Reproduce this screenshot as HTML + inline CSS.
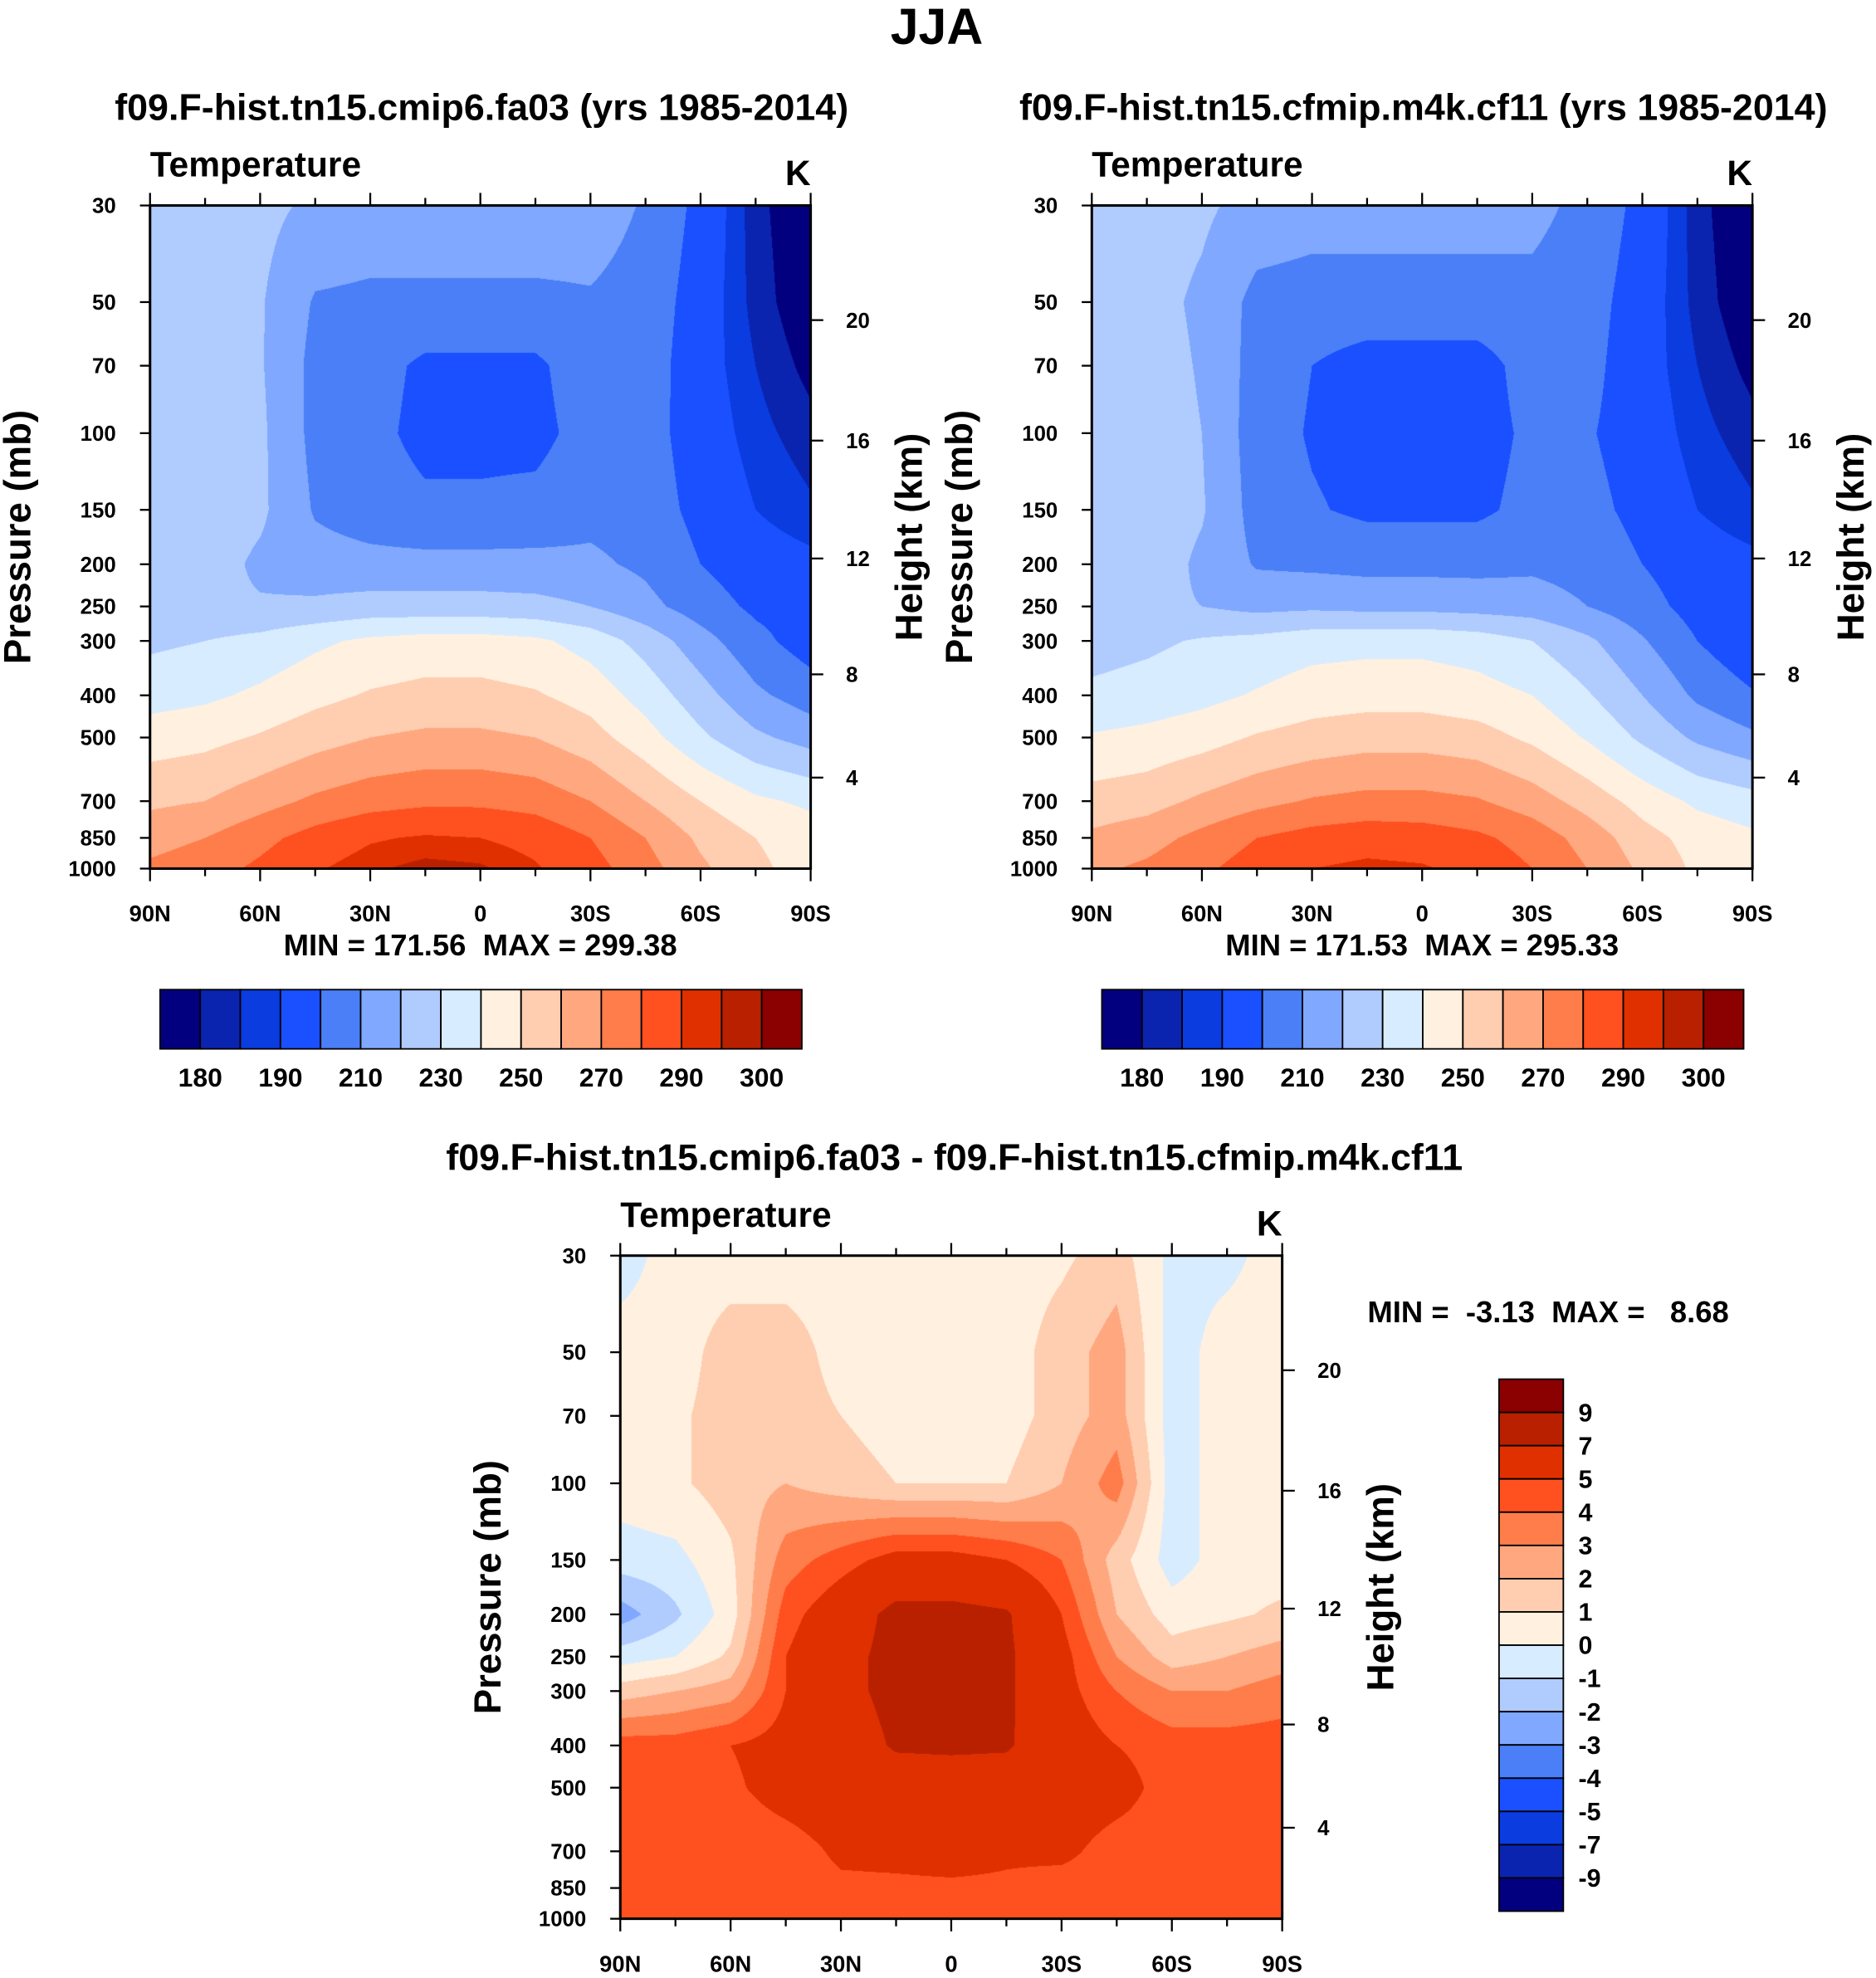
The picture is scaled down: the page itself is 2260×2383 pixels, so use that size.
<!DOCTYPE html>
<html><head><meta charset="utf-8"><style>
html,body{margin:0;padding:0;background:#fff;}
#wrap{position:relative;width:2260px;height:2383px;overflow:hidden;}
canvas,svg{position:absolute;left:0;top:0;}
text{font-family:"Liberation Sans",Arial,sans-serif;font-weight:bold;fill:#000;white-space:pre;}
</style></head><body>
<div id="wrap">
<canvas id="cv" width="2260" height="2383"></canvas>
<svg id="sv" width="2260" height="2383" viewBox="0 0 1488 1569" preserveAspectRatio="none"></svg>
</div>
<script>
// ---- data ----
const lats = [90,75,60,45,30,15,0,-15,-30,-45,-60,-75,-90];
const plevs = [30,50,70,100,150,200,250,300,400,500,700,850,1000];
const latTicks = [90,60,30,0,-30,-60,-90];
const latLabels = ["90N","60N","30N","0","30S","60S","90S"];
const pTicks = [30,50,70,100,150,200,250,300,400,500,700,850,1000];
const hTicks = [20,16,12,8,4];
const hTickP = [55,104,194,358,618];
const tLevels = [180,185,190,200,210,220,230,240,250,260,270,280,290,295,300];
const tLabels = ["180","190","210","230","250","270","290","300"];
const dLevels = [-9,-7,-5,-4,-3,-2,-1,0,1,2,3,4,5,7,9];
const dLabels = ["9","7","5","4","3","2","1","0","-1","-2","-3","-4","-5","-7","-9"];
const colors = ["#03007f","#0a24b0","#0a3ce0","#1a50ff","#4a7ff8","#80a8ff","#b0ccff","#d8ecff",
 "#fff0e0","#ffcdb0","#ffa880","#ff7d4a","#ff5020","#e03000","#b82000","#8b0000"];
const T1 = [
[226,225,223,218,216,216,216,216,215,209,197,182,174],
[226,224,221,209,208,208,208,208,209,206,195,183,175],
[227,225,221,207,204,198,198,198,206,205,194,185,178],
[228,226,222,207,203,197,197,197,204,204,195,187,182],
[228,226,222,209,205,202,202,203,207,205,197,190,186],
[227,225,218,214,213,213,213,213,212,208,200,194,192],
[222,222,221,222,224,224,224,223,220,213,205,198,196],
[228,230,233,238,242,244,244,242,236,226,214,203,195],
[236,238,242,247,251,253,253,251,246,236,224,212,205],
[245,247,251,256,260,262,262,260,254,244,232,222,216],
[258,260,266,272,276,278,278,276,270,260,250,242,238],
[266,270,277,284,289,291,290,287,280,270,258,250,245],
[272,276,282,289,294,297,296,291,284,274,262,252,246]];
const T2 = [
[226,225,222,216,214,214,214,214,213,207,197,182,174],
[226,224,218,207,206,206,206,206,207,204,195,183,175],
[227,225,219,206,200,196,196,196,204,203,194,185,178],
[228,226,220,205,199,196,196,196,202,201,195,187,182],
[228,226,221,206,201,198,198,198,203,203,197,190,186],
[228,226,218,209,208,207,207,207,208,206,200,194,192],
[223,222,220,217,218,217,217,216,215,210,204,196,194],
[226,228,231,233,236,237,237,235,230,222,211,200,192],
[232,234,237,241,245,246,246,244,240,231,220,208,201],
[241,243,246,251,254,256,256,254,248,239,228,218,212],
[254,256,262,267,271,273,273,271,265,256,246,238,234],
[262,266,273,280,284,286,285,282,276,266,254,246,242],
[268,272,278,285,290,292,291,287,280,270,258,248,242]];
const D = [
[-0.5,0.5,0.5,0.5,0.5,0.5,0.5,0.5,0.8,1.5,-0.3,-0.3,0.5],
[0.5,0.5,1.5,1.5,0.6,0.5,0.5,0.5,1.5,2.5,-0.5,0.5,0.5],
[0.5,0.8,1.5,1.5,1.0,0.5,0.5,0.5,1.5,2.5,-0.5,0.5,0.5],
[0.5,0.8,1.5,2.0,1.5,1.0,1.0,1.0,2.0,3.5,-0.5,0.5,0.5],
[-0.5,-0.3,0.8,3.5,4.5,5.5,5.5,5.0,4.0,1.5,-0.5,0.5,0.5],
[-2.5,-1.2,0.5,4.5,6.0,7.5,7.5,7.2,5.0,2.0,0.5,0.8,1.2],
[-0.5,0,1.2,5.0,6.5,7.5,7.5,7.3,5.5,3.0,1.5,2.0,2.5],
[1.5,2.0,2.5,5.0,6.5,7.5,7.5,7.3,5.5,4.0,3.0,3.0,3.5],
[4.5,4.5,5.0,5.5,6.0,7.2,7.3,7.2,5.8,5.0,4.5,4.5,4.5],
[4.5,4.5,4.8,5.5,5.8,6.0,6.0,6.0,5.8,5.5,4.5,4.5,4.5],
[4.5,4.0,4.3,4.5,5.2,5.3,5.5,5.2,5.3,4.5,4.5,4.5,4.5],
[4.5,4.2,4.5,4.5,4.8,4.8,4.8,4.8,4.5,4.5,4.5,4.5,4.5],
[4.5,4.5,4.5,4.5,4.5,4.2,4.5,4.5,4.5,4.5,4.5,4.5,4.5]];

const S = 2260/1488;
const NS="http://www.w3.org/2000/svg";
const sv=document.getElementById('sv');
const ctx=document.getElementById('cv').getContext('2d');
function el(tag,attrs,txt){const e=document.createElementNS(NS,tag);for(const k in attrs)e.setAttribute(k,attrs[k]);if(txt!==undefined)e.textContent=txt;sv.appendChild(e);return e;}
function txt(x,y,s,size,anchor,name){const e=el('text',{x:x,y:y,'font-size':size,'text-anchor':anchor||'middle'},s);

return e;}

function colorIdx(v,lev){let i=0;while(i<lev.length&&v>=lev[i])i++;return i;}
function hex(h){return [parseInt(h.substr(1,2),16),parseInt(h.substr(3,2),16),parseInt(h.substr(5,2),16)];}
const rgb=colors.map(hex);

function panel(P){
 const {x0,y0,w,h,data,lev}=P;
 const xScale=lat=>x0+(90-lat)/180*w;
 const yScale=p=>y0+Math.log(p/30)/Math.log(1000/30)*h;
 const X0=Math.round(x0*S),Y0=Math.round(y0*S),W=Math.round(w*S),H=Math.round(h*S);
 const img=ctx.createImageData(W,H);
 const lpl=plevs.map(p=>Math.log(p));
 for(let j=0;j<H;j++){
  const yy=(Y0+j+0.5)/S;
  const lp=Math.log(30)+(yy-y0)/h*Math.log(1000/30);
  let k=0;while(k<plevs.length-2&&lp>lpl[k+1])k++;
  let fy=(lp-lpl[k])/(lpl[k+1]-lpl[k]);fy=Math.max(0,Math.min(1,fy));
  for(let i=0;i<W;i++){
   const xx=(X0+i+0.5)/S;
   const lat=90-(xx-x0)/w*180;
   let m=Math.floor((90-lat)/15);m=Math.max(0,Math.min(11,m));
   let fx=((90-lat)-m*15)/15;fx=Math.max(0,Math.min(1,fx));
   const v=(data[k][m]*(1-fx)+data[k][m+1]*fx)*(1-fy)+(data[k+1][m]*(1-fx)+data[k+1][m+1]*fx)*fy;
   const c=rgb[colorIdx(v,lev)];
   const o=(j*W+i)*4;img.data[o]=c[0];img.data[o+1]=c[1];img.data[o+2]=c[2];img.data[o+3]=255;
  }
 }
 ctx.putImageData(img,X0,Y0);
 const fr=el('rect',{x:x0,y:y0,width:w,height:h,fill:'none',stroke:'#000','stroke-width':2});
 
 
 for(let l=90;l>=-90;l-=15){
  const x=xScale(l);const major=(l%30===0);const len=major?10:6;
  el('line',{x1:x,y1:y0+h,x2:x,y2:y0+h+len,stroke:'#000','stroke-width':1.5});
  el('line',{x1:x,y1:y0,x2:x,y2:y0-len,stroke:'#000','stroke-width':1.5});
 }
 latTicks.forEach((l,i)=>{txt(xScale(l),y0+h+42,latLabels[i],18,'middle',P.name+'-x-tick-label');});
 pTicks.forEach(p=>{const y=yScale(p);
  el('line',{x1:x0-8,y1:y,x2:x0,y2:y,stroke:'#000','stroke-width':1.5});
  txt(x0-27,y+6,String(p),17,'end',P.name+'-y-tick-label');});
 hTicks.forEach((z,i)=>{const y=yScale(hTickP[i]);
  el('line',{x1:x0+w,y1:y,x2:x0+w+10,y2:y,stroke:'#000','stroke-width':1.5});
  txt(x0+w+28,y+6,String(z),17,'start',P.name+'-right-tick-label');});
 txt(x0,y0-23,'Temperature',28,'start',P.name+'-variable-label');
 txt(x0+w,y0-16,'K',28,'end',P.name+'-units-label');
 const yl=txt(0,0,'Pressure (mb)',30,'middle',P.name+'-y-axis-title');
 yl.setAttribute('transform','translate('+(x0-95)+','+(y0+h/2)+') rotate(-90)');
 const hl=txt(0,0,'Height (km)',30,'middle',P.name+'-right-axis-title');
 hl.setAttribute('transform','translate('+(x0+w+88)+','+(y0+h/2)+') rotate(-90)');
}

txt(743,35,'JJA',40,'middle','figure-title');
txt(382,95,'f09.F-hist.tn15.cmip6.fa03 (yrs 1985-2014)',29.5,'middle','panel1-title');
txt(1129,95,'f09.F-hist.tn15.cfmip.m4k.cf11 (yrs 1985-2014)',29.5,'middle','panel2-title');
txt(757,928,'f09.F-hist.tn15.cmip6.fa03 - f09.F-hist.tn15.cfmip.m4k.cf11',29.5,'middle','panel3-title');

panel({name:'panel1',x0:119,y0:163,w:524,h:526,data:T1,lev:tLevels});
panel({name:'panel2',x0:866,y0:163,w:524,h:526,data:T2,lev:tLevels});
panel({name:'panel3',x0:492,y0:996,w:525,h:526,data:D,lev:dLevels});

txt(381,758,'MIN = 171.56  MAX = 299.38',24,'middle','panel1-min-max');
txt(1128,758,'MIN = 171.53  MAX = 295.33',24,'middle','panel2-min-max');
txt(1228,1049,'MIN =  -3.13  MAX =   8.68',24,'middle','panel3-min-max');

function hbar(x0,name){
 const y0=785,bw=509/16,bh=47;
 colors.forEach((c,i)=>{const r=el('rect',{x:x0+i*bw,y:y0,width:bw,height:bh,fill:c,stroke:'#000','stroke-width':1.2});
  
  });
 tLabels.forEach((s,i)=>{txt(x0+(2*i+1)*bw,y0+bh+30,s,21,'middle',name+'-label');});
}
hbar(127,'colorbar1');hbar(874,'colorbar2');
(function(){
 const x0=1189,y0=1094,bw=51,bh=422/16;
 for(let i=0;i<16;i++){const r=el('rect',{x:x0,y:y0+i*bh,width:bw,height:bh,fill:colors[15-i],stroke:'#000','stroke-width':1.2});
  
  }
 dLabels.forEach((s,i)=>{txt(x0+bw+12,y0+(i+1)*bh+7,s,20,'start','colorbar3-label');});
})();
</script>
</body></html>
